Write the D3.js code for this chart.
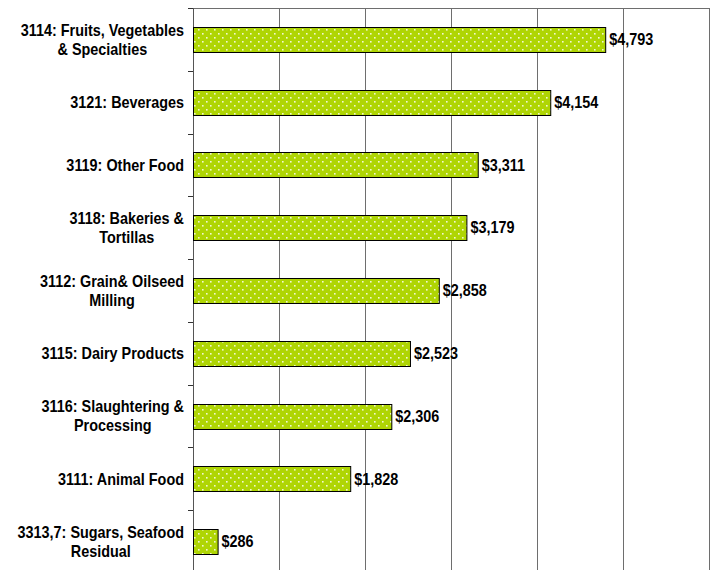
<!DOCTYPE html>
<html lang="en">
<head>
  <meta charset="UTF-8">
  <title>Food Manufacturing by Subsector</title>
  <script src="https://cdnjs.cloudflare.com/ajax/libs/d3/7.8.5/d3.min.js"></script>
  <style>
      body {
          margin: 0;
          background: #fff;
      }
      svg {
          display: block;
          font-family: "Liberation Sans", Arial, sans-serif;
      }
  </style>
</head>
<body>

<div id="chart"></div>

<script>
  // Data (value in $ millions)
  const categories = [
    ["3114: Fruits, Vegetables", "& Specialties"],
    ["3121: Beverages"],
    ["3119: Other Food"],
    ["3118: Bakeries &", "Tortillas"],
    ["3112: Grain& Oilseed", "Milling"],
    ["3115: Dairy Products"],
    ["3116: Slaughtering &", "Processing"],
    ["3111: Animal Food"],
    ["3313,7: Sugars, Seafood", "Residual"]
  ];
  const values = [4793, 4154, 3311, 3179, 2858, 2523, 2306, 1828, 286];
  const xTicks = [0, 1000, 2000, 3000, 4000, 5000, 6000];

  // Layout
  const width = 712;
  const height = 570;
  const marginTop = 8;
  const plotLeft = 193;
  const plotRight = 709;
  const plotBottom = 573;
  const labelRight = 184;
  const squeeze = 0.9;   // the original text is a little condensed

  const barColor = "#afd504";
  const gridColor = "#6e6e6e";
  const font = "bold 16px 'Liberation Sans', Arial, sans-serif";

  const svg = d3.select("#chart")
      .append("svg")
      .attr("width", width)
      .attr("height", height)
      .attr("viewBox", [0, 0, width, height]);

  // dotted fill like the Excel "small confetti" pattern
  const pattern = svg.append("defs")
      .append("pattern")
      .attr("id", "dots")
      .attr("patternUnits", "userSpaceOnUse")
      .attr("width", 8)
      .attr("height", 8);
  pattern.append("rect")
      .attr("width", 8)
      .attr("height", 8)
      .attr("fill", barColor);
  pattern.selectAll("rect.dot")
      .data([[2, 1], [6, 5]])
      .join("rect")
      .attr("class", "dot")
      .attr("x", d => d[0])
      .attr("y", d => d[1])
      .attr("width", 1.6)
      .attr("height", 1.6)
      .attr("fill", "#f2f9d2");

  const x = d3.scaleLinear()
      .domain([0, 6000])
      .range([plotLeft, plotRight]);

  const y = d3.scaleBand()
      .domain(d3.range(categories.length))
      .range([marginTop, plotBottom])
      .paddingInner(0.6)
      .paddingOuter(0.3);

  // vertical gridlines
  const grid = svg.append("g")
      .attr("transform", `translate(0,${plotBottom})`)
      .call(d3.axisBottom(x)
          .tickValues(xTicks.slice(1))
          .tickSize(-(plotBottom - marginTop))
          .tickFormat(""));
  grid.select(".domain").remove();
  grid.selectAll(".tick line")
      .attr("stroke", gridColor)
      .attr("shape-rendering", "crispEdges");

  // top border of the plot area
  svg.append("line")
      .attr("x1", plotLeft)
      .attr("x2", plotRight)
      .attr("y1", marginTop + 0.5)
      .attr("y2", marginTop + 0.5)
      .attr("stroke", gridColor);

  // category axis: line plus small ticks at band boundaries
  const axis = svg.append("g");
  axis.append("line")
      .attr("x1", plotLeft + 0.5)
      .attr("x2", plotLeft + 0.5)
      .attr("y1", marginTop)
      .attr("y2", plotBottom)
      .attr("stroke", "#555");
  axis.selectAll("line.tick")
      .data(d3.range(categories.length + 1))
      .join("line")
      .attr("class", "tick")
      .attr("x1", plotLeft - 5)
      .attr("x2", plotLeft)
      .attr("y1", i => Math.round(marginTop + i * y.step()) + 0.5)
      .attr("y2", i => Math.round(marginTop + i * y.step()) + 0.5)
      .attr("stroke", "#333");

  // bars
  svg.append("g")
      .selectAll("rect")
      .data(values)
      .join("rect")
      .attr("x", x(0) + 0.5)
      .attr("y", (d, i) => Math.round(y(i)) + 0.5)
      .attr("width", d => x(d) - x(0))
      .attr("height", Math.round(y.bandwidth()))
      .attr("fill", "url(#dots)")
      .attr("stroke", "#000")
      .attr("stroke-width", 1);

  // value labels (drawn in a horizontally squeezed group)
  const fmt = d3.format(",");
  svg.append("g")
      .attr("transform", `scale(${squeeze},1)`)
      .style("font", font)
      .selectAll("text")
      .data(values)
      .join("text")
      .attr("x", d => (x(d) + 4) / squeeze)
      .attr("y", (d, i) => y(i) + y.bandwidth() / 2)
      .attr("dy", "0.36em")
      .attr("fill", "#000")
      .text(d => "$" + fmt(d));

  // category labels: centred lines, block right-aligned at labelRight
  const lineHeight = 19;
  const labels = svg.append("g")
      .attr("transform", `scale(${squeeze},1)`)
      .style("font", font)
      .attr("fill", "#000")
      .selectAll("text")
      .data(categories)
      .join("text")
      .attr("text-anchor", "middle");

  labels.each(function (lines, i) {
    const t = d3.select(this);
    const cy = y(i) + y.bandwidth() / 2;
    lines.forEach((line, j) => {
      t.append("tspan")
          .attr("y", cy + (j - (lines.length - 1) / 2) * lineHeight)
          .attr("dy", "0.36em")
          .text(line);
    });
    const widest = d3.max(t.selectAll("tspan").nodes(), n => n.getComputedTextLength());
    t.selectAll("tspan").attr("x", labelRight / squeeze - widest / 2);
  });
</script>
</body>
</html>
